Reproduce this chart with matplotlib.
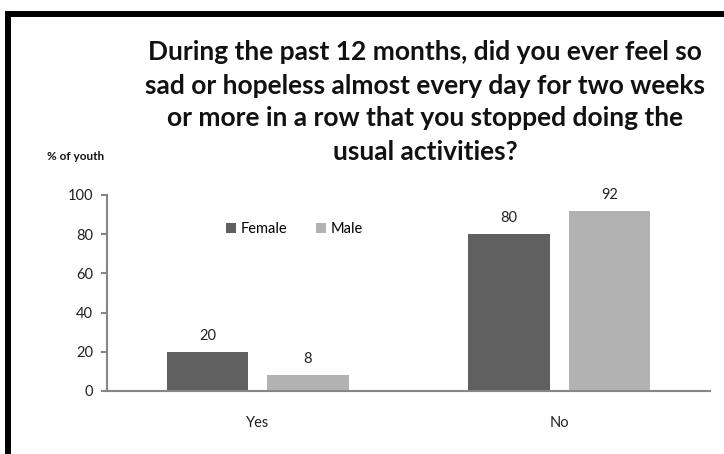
import numpy as np
import matplotlib.pyplot as plt
from matplotlib.lines import Line2D

plt.rcParams['font.family'] = ['Lato', 'DejaVu Sans']

categories = ['Yes', 'No']
female = [20, 80]
male = [8, 92]

W, H = 724, 454
fig = plt.figure(figsize=(W / 100, H / 100), dpi=100)

# black frame (left and top only)
fig.add_artist(Line2D([7.5 / W, 7.5 / W], [0, 1 - 13.5 / H], color='black', lw=4.3,
                      transform=fig.transFigure, solid_capstyle='projecting'))
fig.add_artist(Line2D([7.5 / W, 1], [1 - 13.5 / H, 1 - 13.5 / H], color='black', lw=4.3,
                      transform=fig.transFigure, solid_capstyle='projecting'))

ax = fig.add_axes([107 / W, (H - 391) / H, 603 / W, 196 / H])
x = np.arange(len(categories))
w = 0.27
off = 0.166
b1 = ax.bar(x - off, female, w, color='#606060', label='Female')
b2 = ax.bar(x + off, male, w, color='#b2b2b2', label='Male')
for bars, vals in ((b1, female), (b2, male)):
    for r, v in zip(bars, vals):
        ax.annotate(str(v), (r.get_x() + r.get_width() / 2, v), xytext=(0, 6.5),
                    textcoords='offset points', ha='center', va='bottom',
                    fontsize=10.5, color='#222222')

ax.set_xlim(-0.5, 1.5)
ax.set_ylim(0, 100)
ax.set_yticks([0, 20, 40, 60, 80, 100])
ax.set_xticks(x)
ax.set_xticklabels(categories)
for s in ['top', 'right']:
    ax.spines[s].set_visible(False)
for s in ['left', 'bottom']:
    ax.spines[s].set_color('#868686')
    ax.spines[s].set_linewidth(1.5)
ax.tick_params(axis='y', length=4, width=1.5, color='#868686', labelsize=10.5,
               labelcolor='#222222', pad=6)
ax.tick_params(axis='x', length=0, labelsize=10.5, labelcolor='#222222', pad=18)

ax.legend(loc='upper left', bbox_to_anchor=(0.175, 0.93), ncol=2, frameon=False,
          fontsize=10.5, handlelength=0.7, handleheight=0.7, handletextpad=0.3,
          columnspacing=2.0)

fig.text(425 / W, 1 - 102 / H,
         'During the past 12 months, did you ever feel so\n'
         'sad or hopeless almost every day for two weeks\n'
         'or more in a row that you stopped doing the\n'
         'usual activities?',
         ha='center', va='center', fontsize=19, fontweight='bold',
         linespacing=1.45, color='#111111')
fig.text(47 / W, 1 - 157 / H, '% of youth', ha='left', va='center',
         fontsize=8.5, fontweight='bold', color='#111111')

fig.savefig('out.png', dpi=100)
